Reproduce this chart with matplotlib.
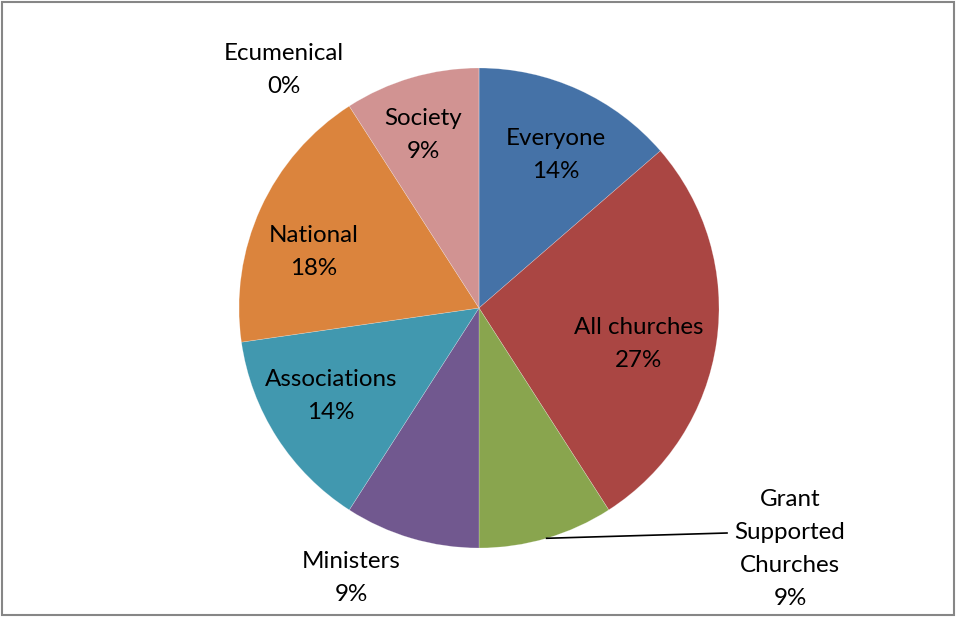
import matplotlib
matplotlib.use("Agg")
import matplotlib.pyplot as plt
import numpy as np
from matplotlib.patches import Rectangle

categories = ["Everyone", "All churches", "Grant\nSupported\nChurches", "Ministers",
              "Associations", "National", "Society", "Ecumenical"]
values = [3, 6, 2, 2, 3, 4, 2, 0]
colors = ["#4572A7", "#AA4643", "#89A54E", "#71588F", "#4198AF", "#DB843D", "#D19392", "#93A9CF"]

# label centres in pixel coordinates (x, y from top)
label_pos = [(556, 155), (639, 344), (790, 549), (351, 578),
             (331, 396), (314, 252), (423, 135), (284, 70)]

W, H = 956, 617
plt.rcParams['font.family'] = ['Lato', 'DejaVu Sans']
fig = plt.figure(figsize=(W / 100, H / 100), dpi=100)
ax = fig.add_axes([0, 0, 1, 1])
ax.set_xlim(0, W)
ax.set_ylim(0, H)
ax.axis('off')

cx, cy, r = 479, H - 308, 240
wedges, _ = ax.pie(values, colors=colors, startangle=90, counterclock=False,
                   center=(cx, cy), radius=r, frame=True,
                   wedgeprops=dict(edgecolor=(1, 1, 1, 0.35), linewidth=0.4))
ax.set_xlim(0, W)
ax.set_ylim(0, H)
ax.axis('off')

total = sum(values)
for cat, v, (px, py) in zip(categories, values, label_pos):
    pct = round(100 * v / total)
    ax.text(px, H - py, f"{cat}\n{pct}%", ha='center', va='center',
            fontsize=17.4, linespacing=1.72, color='black')

# leader line for Grant Supported Churches
w = wedges[2]
mid = np.deg2rad((w.theta1 + w.theta2) / 2)
x0, y0 = cx + r * np.cos(mid), cy + r * np.sin(mid)
ax.plot([x0, 727], [y0, H - 533], color='black', lw=1.2)

ax.add_patch(Rectangle((2, 2), W - 4, H - 4, fill=False, edgecolor='#868686', lw=1.5))

fig.savefig("out.png", dpi=100)
